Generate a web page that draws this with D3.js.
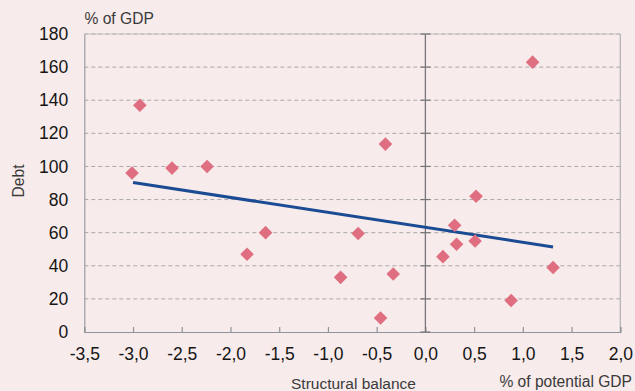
<!DOCTYPE html>
<html><head><meta charset="utf-8">
<script src="https://cdn.jsdelivr.net/npm/d3@7"></script>
<style>
html,body{margin:0;padding:0;background:#f8ebeb;}
svg{display:block;font-family:"Liberation Sans",Arial,sans-serif;}
</style></head>
<body><svg id="c" width="635" height="391"></svg>
<script>
const structuralBalance = [-3.01,-2.93,-2.60,-2.24,-1.83,-1.64,-0.69,-0.87,-0.33,-0.46,-0.41,1.10,0.52,0.30,0.32,0.51,0.18,1.31,0.88];
const debt = [96,137,99,100,47,60,59.5,33,35,8.5,113.5,163,82,64.5,53,55,45.5,39,19];
const trendX = [-3.0,1.31];
const trendY = [90.3,51.4];
const xTicks = [-3.5,-3.0,-2.5,-2.0,-1.5,-1.0,-0.5,0.0,0.5,1.0,1.5,2.0];
const yTicks = [0,20,40,60,80,100,120,140,160,180];

const svg = d3.select("#c");
const L=84.3, R=620.3, T=34, B=332;
const x = d3.scaleLinear().domain([-3.5,2.0]).range([L,R]);
const y = d3.scaleLinear().domain([0,180]).range([B,T]);
const fmt = d => d.toFixed(1).replace(".",",");

// gridlines
svg.append("g").selectAll("line").data(yTicks.filter(d=>d>0)).join("line")
  .attr("x1",L).attr("x2",R).attr("y1",d=>y(d)).attr("y2",d=>y(d))
  .attr("stroke","#a9a9a9").attr("stroke-width",1).attr("stroke-dasharray","4,3");
// top & right frame
svg.append("line").attr("x1",L).attr("x2",R).attr("y1",T).attr("y2",T).attr("stroke","#c4c0c0").attr("stroke-width",1);
svg.append("line").attr("x1",R).attr("x2",R).attr("y1",T).attr("y2",B).attr("stroke","#b0b0b3").attr("stroke-width",1.2);

// y axis
const yAxis = d3.axisLeft(y).tickValues(yTicks).tickSize(0).tickPadding(16).tickFormat(d3.format("d"));
const gy = svg.append("g").attr("transform",`translate(${L},0)`).call(yAxis);
gy.select(".domain").attr("stroke","#9a9ea6").attr("stroke-width",1.2);
gy.selectAll("text").attr("font-size",17.5).attr("fill","#151515").attr("font-family","Liberation Sans, Arial, sans-serif");

// x axis (ticks pointing up)
const xAxis = d3.axisBottom(x).tickValues(xTicks).tickSize(-5).tickPadding(16).tickFormat(fmt);
const gx = svg.append("g").attr("transform",`translate(0,${B})`).call(xAxis);
gx.select(".domain").attr("stroke","#8f939b").attr("stroke-width",1.2);
gx.selectAll(".tick line").attr("stroke","#8f939b").attr("stroke-width",1.2);
gx.selectAll("text").attr("font-size",17.5).attr("fill","#151515").attr("font-family","Liberation Sans, Arial, sans-serif");

// vertical zero axis with cross ticks
const zx = x(0);
svg.append("line").attr("x1",zx).attr("x2",zx).attr("y1",T).attr("y2",B).attr("stroke","#76767a").attr("stroke-width",1.3);
svg.append("g").selectAll("line").data(yTicks).join("line")
  .attr("x1",zx-5).attr("x2",zx+5).attr("y1",d=>y(d)).attr("y2",d=>y(d))
  .attr("stroke","#76767a").attr("stroke-width",1.2);

// trend line
svg.append("line").attr("x1",x(trendX[0])).attr("y1",y(trendY[0])).attr("x2",x(trendX[1])).attr("y2",y(trendY[1]))
  .attr("stroke","#1b4c93").attr("stroke-width",3);

// markers
const pts = structuralBalance.map((v,i)=>({x:v,y:debt[i]}));
svg.append("g").selectAll("path").data(pts).join("path")
  .attr("d",d=>{const cx=x(d.x), cy=y(d.y), r=6.8; return `M${cx},${cy-r}L${cx+r},${cy}L${cx},${cy+r}L${cx-r},${cy}Z`;})
  .attr("fill","#de6e80");

// labels
svg.append("text").attr("x",84.5).attr("y",24).attr("font-size",15.6).attr("fill","#3a3a3a").text("% of GDP");
svg.append("text").attr("transform","translate(23.5,181) rotate(-90)").attr("text-anchor","middle").attr("font-size",15.6).attr("fill","#3a3a3a").text("Debt");
svg.append("text").attr("x",291).attr("y",389).attr("font-size",15.5).attr("fill","#3a3a3a").text("Structural balance");
svg.append("text").attr("x",632).attr("y",387).attr("text-anchor","end").attr("font-size",15.6).attr("fill","#3a3a3a").text("% of potential GDP");
</script></body></html>
